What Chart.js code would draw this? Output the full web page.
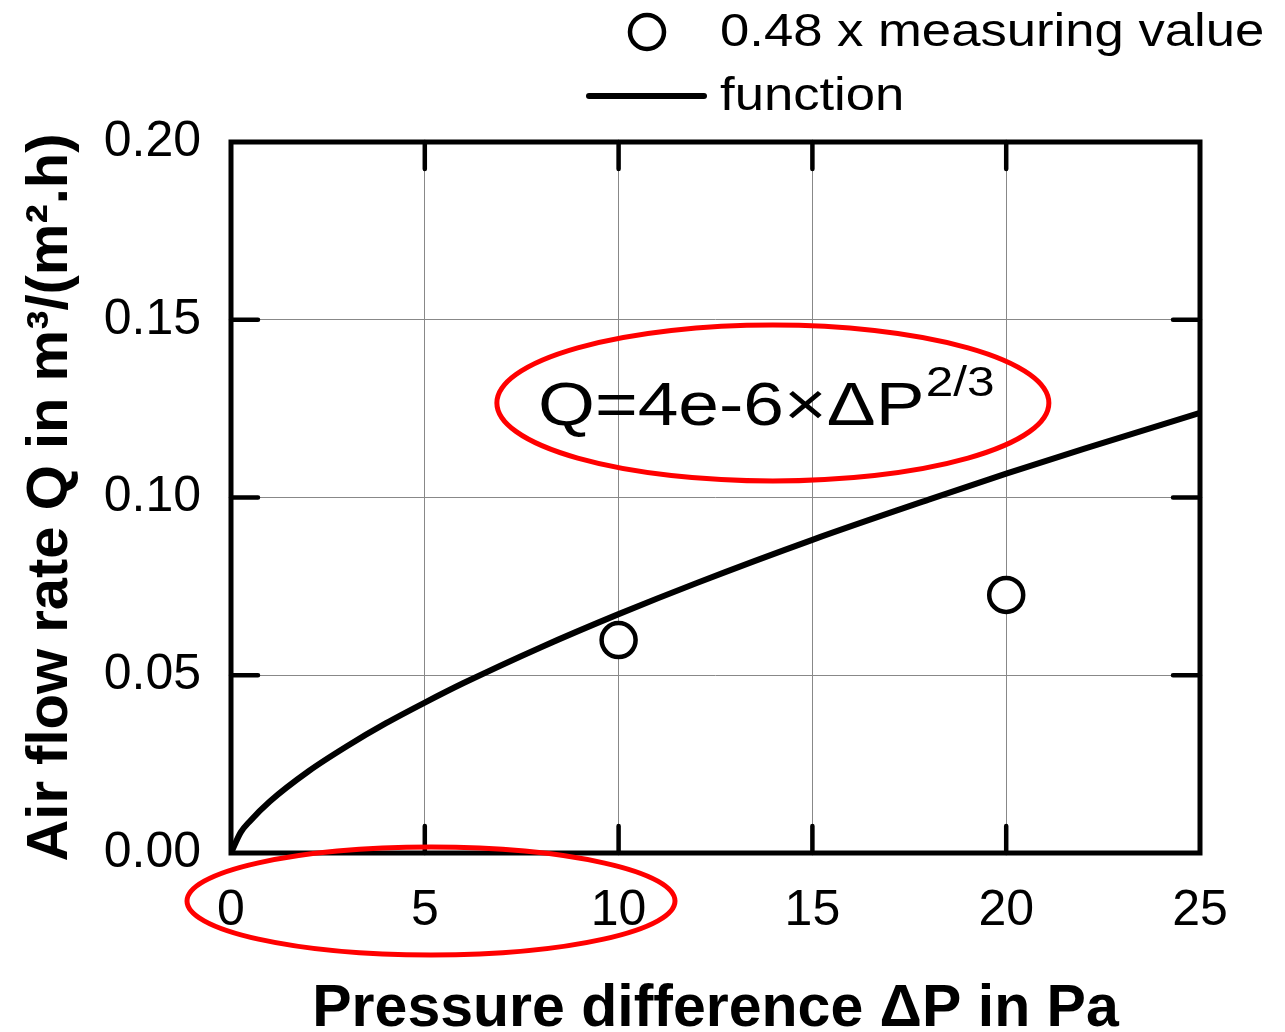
<!DOCTYPE html>
<html>
<head>
<meta charset="utf-8">
<script src="https://cdn.jsdelivr.net/npm/chart.js@4.4.1/dist/chart.umd.min.js"></script>
<style>
  html, body { margin: 0; padding: 0; background: #fff; }
  #wrap { width: 1285px; height: 1032px; position: relative; }
</style>
</head>
<body>
<div id="wrap"><canvas id="chart"></canvas></div>
<script>
// pressure difference (Pa) and air flow
var funcP = [0, 0.25, 0.5, 1, 2, 3, 4, 5, 6, 8, 10, 12, 15, 18, 20, 22, 25];
var funcQ = [0, 0.0058, 0.0091, 0.0145, 0.0230, 0.0301, 0.0365, 0.0423, 0.0478, 0.0579, 0.0672, 0.0759, 0.0881, 0.0994, 0.1067, 0.1137, 0.1238];
// measured points (already x 0.48)
var measP = [10, 20];
var measQ = [0.0599, 0.0726];

var xTicks = [0, 5, 10, 15, 20, 25];
var yTicks = [0, 0.05, 0.10, 0.15, 0.20];

var funcData = funcP.map(function(p, i) { return {x: p, y: funcQ[i]}; });
var measData = measP.map(function(p, i) { return {x: p, y: measQ[i]}; });

var font = "'Liberation Sans', Arial, sans-serif";

var decor = {
    id: 'decor',
    beforeDatasetsDraw: function(chart) {
        var c = chart.ctx, a = chart.chartArea;
        var xs = chart.scales.x, ys = chart.scales.y;
        c.save();
        c.strokeStyle = '#000';
        c.lineWidth = 4.5;
        c.lineCap = 'round';
        // inner ticks
        var tl = 27;
        xTicks.slice(1, -1).forEach(function(v) {
            var px = xs.getPixelForValue(v);
            c.beginPath();
            c.moveTo(px, a.bottom); c.lineTo(px, a.bottom - tl);
            c.moveTo(px, a.top); c.lineTo(px, a.top + tl);
            c.stroke();
        });
        yTicks.slice(1, -1).forEach(function(v) {
            var py = ys.getPixelForValue(v);
            c.beginPath();
            c.moveTo(a.left, py); c.lineTo(a.left + tl, py);
            c.moveTo(a.right, py); c.lineTo(a.right - tl, py);
            c.stroke();
        });
        c.lineCap = 'butt';
        c.lineJoin = 'miter';
        c.lineWidth = 5;
        c.strokeRect(a.left, a.top, a.right - a.left, a.bottom - a.top);
        c.restore();
    },
    afterDraw: function(chart) {
        var c = chart.ctx, a = chart.chartArea;
        var xs = chart.scales.x, ys = chart.scales.y;
        c.save();
        // legend
        c.strokeStyle = '#000';
        c.lineWidth = 4.5;
        c.beginPath();
        c.arc(647, 32, 17, 0, Math.PI * 2);
        c.stroke();
        c.lineWidth = 6;
        c.lineCap = 'round';
        c.beginPath();
        c.moveTo(589, 96); c.lineTo(704, 96);
        c.stroke();
        c.fillStyle = '#000';
        c.textBaseline = 'middle';
        c.textAlign = 'left';
        c.save();
        c.translate(720, 0);
        c.scale(1.12, 1);
        c.font = '47px ' + font;
        c.fillText('0.48 x measuring value', 0, 33);
        c.fillText('function', 0, 97);
        c.restore();

        // formula
        c.save();
        c.translate(538, 0);
        c.scale(1.18, 1);
        c.font = '62px ' + font;
        var main = 'Q=4e-6\u00d7\u0394P';
        c.fillText(main, 0, 408);
        var w = c.measureText(main).width;
        c.font = '42px ' + font;
        c.fillText('2/3', w + 1, 384);
        c.restore();

        // red ellipses
        c.strokeStyle = '#ff0000';
        c.lineWidth = 5;
        c.beginPath();
        c.ellipse(xs.getPixelForValue(13.98), ys.getPixelForValue(0.1266), 276, 78, 0, 0, Math.PI * 2);
        c.stroke();
        c.beginPath();
        c.ellipse(xs.getPixelForValue(5.16), a.bottom + 48, 244, 54, 0, 0, Math.PI * 2);
        c.stroke();
        c.restore();
    }
};

var ctx = document.getElementById('chart');
var chart = new Chart(ctx, {
    type: 'scatter',
    data: {
        datasets: [
            {
                label: 'function',
                data: funcData,
                showLine: true,
                borderColor: '#000',
                borderWidth: 6,
                pointRadius: 0,
                cubicInterpolationMode: 'monotone',
                order: 2
            },
            {
                label: '0.48 x measuring value',
                data: measData,
                showLine: false,
                pointRadius: 17,
                pointBorderWidth: 4.5,
                pointBorderColor: '#000',
                pointBackgroundColor: '#fff',
                order: 1
            }
        ]
    },
    options: {
        responsive: true,
        maintainAspectRatio: false,
        animation: false,
        layout: { padding: { top: 142, right: 85, left: 0, bottom: 0 } },
        plugins: {
            legend: { display: false },
            tooltip: { enabled: false }
        },
        scales: {
            x: {
                type: 'linear',
                min: 0, max: 25,
                afterFit: function(s) { s.height = 179; },
                afterBuildTicks: function(s) { s.ticks = xTicks.map(function(v) { return {value: v}; }); },
                grid: { color: '#888', lineWidth: 1, drawTicks: false },
                border: { display: false },
                ticks: { color: '#000', padding: 28, font: { family: font, size: 50 } },
                title: {
                    display: true,
                    text: 'Pressure difference \u0394P in Pa',
                    color: '#000',
                    font: { family: font, size: 59, weight: 'bold', lineHeight: 0.75 },
                    padding: { top: 0, bottom: 0 }
                }
            },
            y: {
                min: 0, max: 0.2,
                afterFit: function(s) { s.width = 231; },
                afterBuildTicks: function(s) { s.ticks = yTicks.map(function(v) { return {value: v}; }); },
                grid: { color: '#888', lineWidth: 1, drawTicks: false },
                border: { display: false },
                ticks: {
                    color: '#000', padding: 30,
                    font: { family: font, size: 50 },
                    callback: function(v) { return v.toFixed(2); }
                },
                title: {
                    display: true,
                    text: 'Air flow rate Q in m\u00b3/(m\u00b2.h)',
                    color: '#000',
                    font: { family: font, size: 58, weight: 'bold' },
                    padding: { top: 16, bottom: 0 }
                }
            }
        }
    },
    plugins: [decor]
});
</script>
</body>
</html>
